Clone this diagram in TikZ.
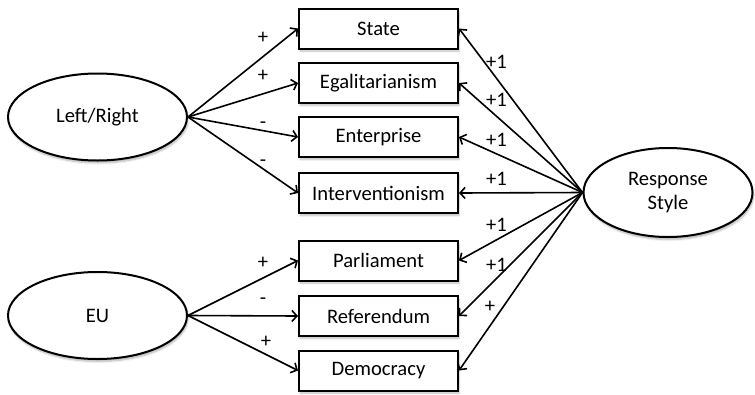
\documentclass[tikz,border=0pt]{standalone}
\usepackage{fontspec}
\setmainfont{Carlito}
\usetikzlibrary{shapes.geometric,arrows.meta,shadows.blur}

\tikzset{
  txt/.style={font=\fontsize{20.6}{23.5}\selectfont},
  latent/.style={txt, ellipse, draw, line width=2pt, fill=white, inner sep=0pt,
    align=center, blur shadow={shadow xshift=1pt, shadow yshift=-2.5pt, shadow blur steps=6, shadow opacity=30}},
  indicator/.style={txt, rectangle, draw, line width=2pt, fill=white, inner sep=0pt,
    minimum width=159pt, minimum height=40pt,
    blur shadow={shadow xshift=1pt, shadow yshift=-2.5pt, shadow blur steps=5, shadow opacity=25}},
  path/.style={line width=1.6pt, -{Straight Barb[length=5pt, width=11pt]}},
  coef/.style={txt, inner sep=0pt},
}

\begin{document}
\begin{tikzpicture}[x=1pt, y=-1pt]
  \useasboundingbox (0,0) rectangle (755,394);

  % latent factors
  \node[latent, minimum width=179pt, minimum height=87pt] (lr) at (97.5,117) {Left/Right};
  \node[latent, minimum width=179pt, minimum height=87pt] (eu) at (97.5,315.5) {EU};
  \node[latent, minimum width=169pt, minimum height=89pt] (rs) at (668,192.5) {Response\\Style};

  % observed items
  \node[indicator] (state) at (378.5,28.5) {State};
  \node[indicator] (egal)  at (378.5,83)   {Egalitarianism};
  \node[indicator] (ent)   at (378.5,137)  {Enterprise};
  \node[indicator] (intv)  at (378.5,193)  {Interventionism};
  \node[indicator] (parl)  at (378.5,260.5){Parliament};
  \node[indicator] (ref)   at (378.5,316)  {Referendum};
  \node[indicator] (dem)   at (378.5,370.5){Democracy};

  % loadings of the substantive factors
  \draw[path] (lr.east) -- (state.west);
  \draw[path] (lr.east) -- (egal.west);
  \draw[path] (lr.east) -- (ent.west);
  \draw[path] (lr.east) -- (intv.west);
  \draw[path] (eu.east) -- (parl.west);
  \draw[path] (eu.east) -- (ref.west);
  \draw[path] (eu.east) -- (dem.west);

  % loadings of the response style factor
  \foreach \n in {state,egal,ent,intv,parl,ref,dem}
    \draw[path] (rs.west) -- (\n.east);

  % signs of the loadings
  \node[coef] (s1) at (263,38)  {+};
  \node[coef] (s2) at (263,76)  {+};
  \node[coef] (s3) at (263,125) {-};
  \node[coef] (s4) at (263,163) {-};
  \node[coef] (s5) at (263,262.5) {+};
  \node[coef] (s6) at (263,301.5) {-};
  \node[coef] (s7) at (266,341.5) {+};

  \node[coef] (r1) at (496.5,61.5)  {+1};
  \node[coef] (r2) at (496.5,100)   {+1};
  \node[coef] (r3) at (496.5,140)   {+1};
  \node[coef] (r4) at (496.5,179)   {+1};
  \node[coef] (r5) at (496.5,225)   {+1};
  \node[coef] (r6) at (496.5,265)   {+1};
  \node[coef] (r7) at (490,307)     {+};
\end{tikzpicture}
\end{document}
